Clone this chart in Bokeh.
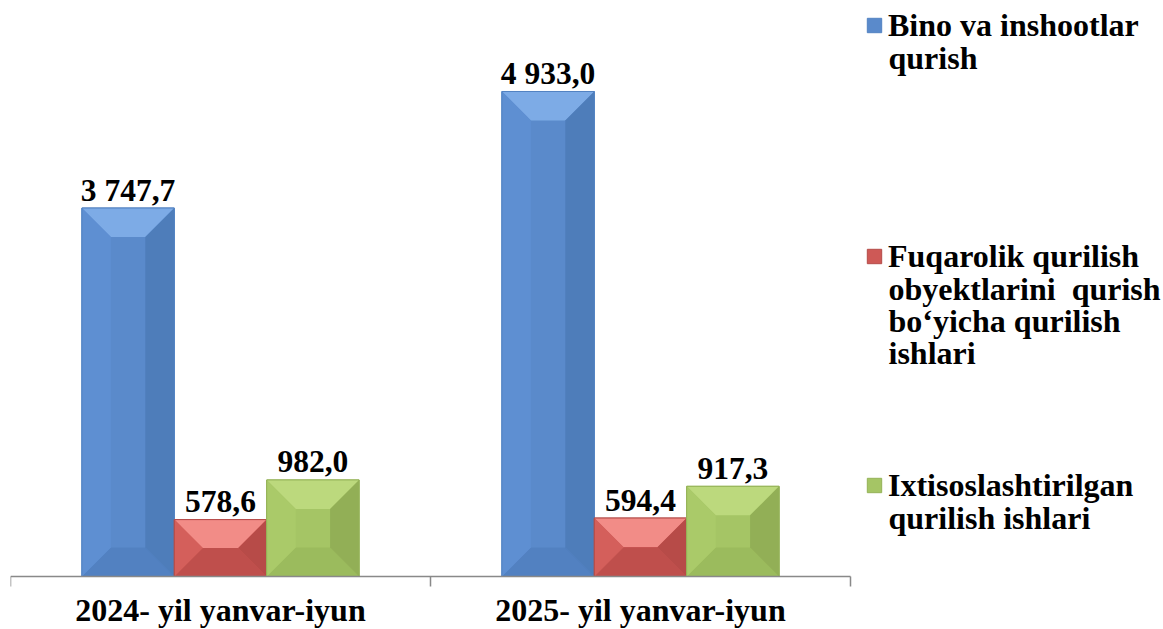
from bokeh.plotting import figure
from bokeh.models import Range1d, FixedTicker, Legend, LegendItem, Label
from bokeh.embed import file_html
from bokeh.resources import INLINE
from bokeh.core.properties import value

# ---------------- data ----------------
categories = ["2024- yil yanvar-iyun", "2025- yil yanvar-iyun"]
series_names = [
    ["Bino va inshootlar", "qurish"],
    ["Fuqarolik qurilish", "obyektlarini\u00a0 qurish", "bo‘yicha qurilish", "ishlari"],
    ["Ixtisoslashtirilgan", "qurilish ishlari"],
]
bino_values = [3747.7, 4933.0]
fuqarolik_values = [578.6, 594.4]
ixtisos_values = [982.0, 917.3]

# ---------------- layout / style ----------------
FONT = "Liberation Serif"
FS = "32px"
FS_DATA = "31.5px"
W, H = 1163, 629
BL = 10
FW, FH = W - BL, H
PX_PER_CAT = 420.0
XMAX = FW / PX_PER_CAT
BASE_PX = 576.0               # pixel row of the value axis zero
PX_Y = 0.09832                # pixels per unit of value
YMAX = BASE_PX / PX_Y
YMIN = -(H - BASE_PX) / PX_Y
BAR_W = 0.22
OFFSETS = [-BAR_W, 0.0, BAR_W]
BEVEL = 29.0
LINE_PITCH = 31.7
LABEL_FIX = 10.0
LEGEND_BASELINES = [36.0, 267.0, 496.0]   # first-line baselines, px from top
LEGEND_X = 855.0                          # glyph left, px from frame left
TEXT_X = LEGEND_X + 18 + 5

palettes = [
    dict(base="#5A8ACB", top="#7DABE6", left="#5E8FD2", right="#4E7DBA", bottom="#5281C1", line="#5282C2"),
    dict(base="#CE5956", top="#F28C87", left="#D45F5B", right="#B74B48", bottom="#BF4F4C", line="#B44B48"),
    dict(base="#A5C565", top="#BCD97D", left="#AACA69", right="#92AF56", bottom="#9BBB5D", line="#94B257"),
]

all_series = [bino_values, fuqarolik_values, ixtisos_values]

p = figure(width=W, height=H, x_range=Range1d(0, XMAX), y_range=Range1d(YMIN, YMAX),
           output_backend="svg", toolbar_location=None,
           min_border_left=BL, min_border_right=0, min_border_top=0, min_border_bottom=0)
p.yaxis.visible = False
p.grid.visible = False
p.outline_line_color = None
p.background_fill_color = "white"
p.border_fill_color = "white"

centers = [i + 0.5 for i in range(len(categories))]

bar_renderers = []
for s, vals in enumerate(all_series):
    pal = palettes[s]
    xs_c = [c + OFFSETS[s] for c in centers]
    r = p.vbar(x=xs_c, top=vals, width=BAR_W, bottom=0,
               fill_color=pal["base"], line_color=pal["line"], line_width=1)
    bar_renderers.append(r)

    faces = {"top": ([], []), "bottom": ([], []), "left": ([], []), "right": ([], [])}
    for xc, v in zip(xs_c, vals):
        x0, x1 = xc - BAR_W / 2, xc + BAR_W / 2
        h_px = v * PX_Y
        w_px = BAR_W * PX_PER_CAT
        b = min(BEVEL, w_px / 2, h_px / 2)
        bx, by = b / PX_PER_CAT, b / PX_Y
        faces["top"][0].append([x0, x1, x1 - bx, x0 + bx])
        faces["top"][1].append([v, v, v - by, v - by])
        faces["bottom"][0].append([x0, x1, x1 - bx, x0 + bx])
        faces["bottom"][1].append([0, 0, by, by])
        faces["left"][0].append([x0, x0, x0 + bx, x0 + bx])
        faces["left"][1].append([0, v, v - by, by])
        faces["right"][0].append([x1, x1, x1 - bx, x1 - bx])
        faces["right"][1].append([0, v, v - by, by])
    for name, (fx, fy) in faces.items():
        p.patches(xs=fx, ys=fy, fill_color=pal[name], line_color=None)
    p.vbar(x=xs_c, top=vals, width=BAR_W, bottom=0, fill_color=None,
           line_color=pal["line"], line_width=1)

    labels = [f"{v:,.1f}".replace(",", " ").replace(".", ",") for v in vals]
    p.text(x=xs_c, y=vals, text=labels, y_offset=-18, text_align="center",
           text_baseline="alphabetic", text_font=value(FONT), text_font_style="bold",
           text_font_size=FS_DATA, text_color="black")

# ---------------- category axis ----------------
xa = p.xaxis[0]
xa.fixed_location = 0
xa.bounds = (0, len(categories))
xa.ticker = FixedTicker(ticks=centers, minor_ticks=[float(i) for i in range(len(categories) + 1)])
xa.major_label_overrides = {c: cat for c, cat in zip(centers, categories)}
xa.major_tick_line_color = None
xa.major_tick_in = 0
xa.major_tick_out = 0
xa.minor_tick_in = 0
xa.minor_tick_out = 10
xa.minor_tick_line_color = "#898989"
xa.minor_tick_line_width = 1.5
xa.axis_line_color = "#898989"
xa.axis_line_width = 1.5
xa.major_label_standoff = 5
xa.major_label_text_font = FONT
xa.major_label_text_font_style = "bold"
xa.major_label_text_font_size = FS
xa.major_label_text_color = "black"

# ---------------- legends ----------------
for r, lines, base in zip(bar_renderers, series_names, LEGEND_BASELINES):
    vy = H - (base + 9.2)
    lg = Legend(items=[LegendItem(label=lines[0], renderers=[r])], location=(LEGEND_X, vy),
                label_text_font=FONT, label_text_font_style="bold",
                label_text_font_size=FS, label_text_color="black",
                glyph_width=18, glyph_height=18, label_standoff=5, label_height=40,
                padding=0, margin=0, border_line_color=None,
                background_fill_alpha=0.0, spacing=0)
    p.add_layout(lg, "center")
    for k, line in enumerate(lines[1:], start=1):
        p.add_layout(Label(x=TEXT_X, y=H - (base + k * LINE_PITCH) + LABEL_FIX,
                           x_units="screen", y_units="screen",
                           text=line, text_font=FONT, text_font_style="bold",
                           text_font_size=FS, text_color="black", text_baseline="alphabetic"))

open("out.html", "w").write(file_html(p, INLINE))
